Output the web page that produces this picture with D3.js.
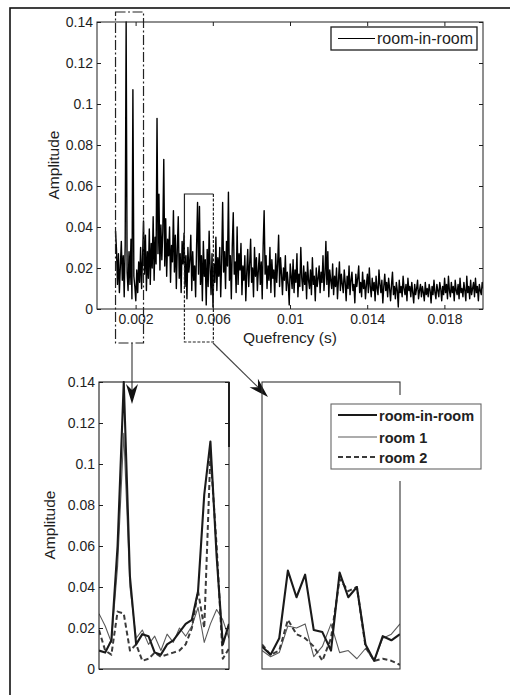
<!DOCTYPE html>
<html>
<head>
<meta charset="utf-8">
<script src="https://cdn.jsdelivr.net/npm/d3@7"></script>
<style>
  body { margin: 0; background: #fff; }
  svg { display: block; }
  text { font-family: "Liberation Sans", Arial, sans-serif; }
</style>
</head>
<body>
<svg id="fig" width="510" height="695"></svg>
<script>
// ---- data -------------------------------------------------------------
// cepstrum of the room-in-room response, sampled from 0.00096 s in 0.05 ms steps
const cepStart = 0.00096;
const cepStep = 0.00005;
const roomInRoom = [
  0.038,0.029,0.012,0.027,0.008,0.021,0.033,0.014,0.026,0.006,
  0.031,0.140,0.018,0.009,0.028,0.012,0.034,0.005,0.107,0.016,
  0.011,0.004,0.019,0.008,0.023,0.013,0.030,0.010,0.025,0.043,
  0.017,0.036,0.009,0.028,0.015,0.039,0.012,0.032,0.020,0.045,
  0.014,0.035,0.022,0.093,0.027,0.056,0.019,0.041,0.024,0.038,
  0.073,0.021,0.044,0.016,0.034,0.026,0.040,0.013,0.031,0.023,
  0.048,0.018,0.036,0.010,0.029,0.045,0.015,0.027,0.008,0.033,
  0.022,0.037,0.011,0.026,0.005,0.030,0.018,0.024,0.036,0.009,
  0.028,0.014,0.021,0.006,0.031,0.052,0.017,0.050,0.012,0.026,
  0.004,0.033,0.016,0.024,0.002,0.029,0.011,0.038,0.020,0.007,
  0.027,0.001,0.022,0.013,0.035,0.009,0.025,0.016,0.030,0.006,
  0.024,0.052,0.018,0.028,0.010,0.033,0.021,0.057,0.014,0.026,
  0.005,0.031,0.047,0.017,0.023,0.008,0.040,0.012,0.027,0.019,
  0.032,0.007,0.021,0.014,0.026,0.004,0.018,0.029,0.011,0.022,
  0.034,0.013,0.020,0.006,0.030,0.016,0.025,0.009,0.019,0.027,
  0.012,0.023,0.005,0.031,0.048,0.017,0.026,0.010,0.021,0.014,
  0.030,0.008,0.024,0.015,0.019,0.006,0.027,0.013,0.022,0.036,
  0.011,0.025,0.017,0.007,0.020,0.014,0.026,0.009,0.018,0.012,
  0.002,0.022,0.016,0.010,0.024,0.008,0.019,0.013,0.027,0.006,
  0.017,0.011,0.030,0.015,0.009,0.021,0.012,0.018,0.005,0.023,
  0.014,0.010,0.019,0.007,0.025,0.012,0.016,0.004,0.020,0.011,
  0.015,0.021,0.008,0.018,0.013,0.026,0.009,0.017,0.033,0.012,
  0.028,0.006,0.019,0.014,0.010,0.022,0.007,0.016,0.011,0.020,
  0.005,0.014,0.023,0.009,0.017,0.012,0.008,0.019,0.013,0.004,
  0.016,0.010,0.021,0.007,0.014,0.018,0.009,0.012,0.003,0.017,
  0.011,0.015,0.021,0.008,0.013,0.006,0.018,0.010,0.014,0.005,
  0.012,0.017,0.008,0.020,0.011,0.006,0.015,0.009,0.013,0.004,
  0.016,0.010,0.007,0.019,0.012,0.008,0.014,0.003,0.011,0.017,
  0.009,0.013,0.006,0.015,0.010,0.004,0.012,0.018,0.007,0.011,
  0.005,0.013,0.009,0.001,0.014,0.008,0.011,0.006,0.016,0.010,
  0.007,0.012,0.004,0.015,0.009,0.011,0.006,0.013,0.008,0.003,
  0.012,0.007,0.010,0.014,0.005,0.009,0.012,0.006,0.011,0.008,
  0.004,0.013,0.007,0.010,0.006,0.012,0.009,0.003,0.011,0.007,
  0.014,0.008,0.005,0.012,0.009,0.006,0.013,0.010,0.004,0.011,
  0.007,0.015,0.008,0.012,0.005,0.016,0.009,0.006,0.013,0.008,
  0.011,0.004,0.014,0.009,0.007,0.012,0.005,0.015,0.008,0.010,
  0.006,0.013,0.009,0.004,0.016,0.008,0.011,0.005,0.014,0.007,
  0.010,0.013,0.006,0.015,0.008,0.011,0.004,0.012,0.009,0.007,
  0.013,0.010
];

// detail window A (first two strong rahmonics)
const detailAStart = 0.00141;
const detailAStep = 0.000025;
const detailA_roomInRoom = [0.009,0.008,0.014,0.060,0.140,0.045,0.012,0.017,0.016,0.008,0.007,
                            0.012,0.014,0.018,0.022,0.024,0.038,0.085,0.111,0.055,0.012,0.022];
const detailA_room1 = [0.027,0.021,0.013,0.050,0.115,0.040,0.015,0.019,0.012,0.016,0.009,
                       0.017,0.013,0.020,0.016,0.021,0.030,0.013,0.022,0.029,0.024,0.015];
const detailA_room2 = [0.019,0.009,0.007,0.028,0.027,0.009,0.012,0.004,0.005,0.008,0.006,
                       0.007,0.008,0.009,0.012,0.020,0.038,0.020,0.105,0.060,0.005,0.010];

// detail window B (around 5 ms)
const detailBStart = 0.0047;
const detailBStep = 0.00005;
const detailB_roomInRoom = [0.011,0.007,0.015,0.048,0.035,0.046,0.019,0.018,0.009,
                            0.047,0.035,0.040,0.012,0.004,0.016,0.014,0.017];
const detailB_room1 = [0.009,0.006,0.008,0.021,0.020,0.022,0.006,0.011,0.022,
                       0.008,0.009,0.005,0.010,0.004,0.015,0.017,0.022];
const detailB_room2 = [0.012,0.007,0.009,0.024,0.017,0.015,0.011,0.004,0.015,
                       0.044,0.038,0.040,0.011,0.004,0.005,0.004,0.002];

// quefrency spans marked on the overview
const windowA = [0.00096, 0.00241];
const windowB = [0.00453, 0.00603];

const ampTicks = [0, 0.02, 0.04, 0.06, 0.08, 0.1, 0.12, 0.14];
const ampTickLabels = ["0", "0.02", "0.04", "0.06", "0.08", "0.1", "0.12", "0.14"];
const qTicks = [0.002, 0.006, 0.01, 0.014, 0.018];
const qTickLabels = ["0.002", "0.006", "0.01", "0.014", "0.018"];

const seriesNames = ["room-in-room", "room 1", "room 2"];

// ---- drawing ----------------------------------------------------------
const svg = d3.select("#fig");
const ink = "#1e1e1e";

// outer figure frame
svg.append("rect").attr("x", 10).attr("y", 8).attr("width", 530).attr("height", 720)
  .attr("fill", "none").attr("stroke", "#111").attr("stroke-width", 1.6);

const toPts = (start, step, vals) => vals.map((v, i) => [start + i * step, v]);

// overview panel
const ov = { l: 97, r: 483, t: 22, b: 309 };
const xTop = d3.scaleLinear().domain([0, 0.02]).range([ov.l, ov.r]);
const yTop = d3.scaleLinear().domain([0, 0.14]).range([ov.b, ov.t]);

svg.append("clipPath").attr("id", "clipTop").append("rect")
  .attr("x", ov.l).attr("y", ov.t - 1).attr("width", ov.r - ov.l).attr("height", ov.b - ov.t + 1);

svg.append("path")
  .datum(toPts(cepStart, cepStep, roomInRoom))
  .attr("clip-path", "url(#clipTop)")
  .attr("fill", "none").attr("stroke", "#000").attr("stroke-width", 1.4)
  .attr("stroke-linejoin", "round")
  .attr("d", d3.line().x(d => xTop(d[0])).y(d => yTop(d[1])));

function styleAxis(g) {
  g.attr("color", ink).attr("font-size", 14).attr("font-family", null);
  g.select(".domain").remove();
  g.selectAll("text").attr("font-family", '"Liberation Sans", Arial, sans-serif');
}

svg.append("g").attr("transform", `translate(${ov.l},0)`)
  .call(d3.axisLeft(yTop).tickValues(ampTicks).tickFormat((d, i) => ampTickLabels[i]).tickSize(-4).tickSizeOuter(0).tickPadding(4))
  .call(styleAxis);
svg.append("g").attr("transform", `translate(${ov.r},0)`)
  .call(d3.axisRight(yTop).tickValues(ampTicks).tickFormat("").tickSize(-4).tickSizeOuter(0))
  .call(styleAxis);
svg.append("g").attr("transform", `translate(0,${ov.b})`)
  .call(d3.axisBottom(xTop).tickValues(qTicks).tickFormat((d, i) => qTickLabels[i]).tickSize(-4).tickSizeOuter(0).tickPadding(5))
  .call(styleAxis);
svg.append("g").attr("transform", `translate(0,${ov.t})`)
  .call(d3.axisTop(xTop).tickValues(qTicks).tickFormat("").tickSize(-4).tickSizeOuter(0))
  .call(styleAxis);
svg.append("rect").attr("x", ov.l).attr("y", ov.t).attr("width", ov.r - ov.l).attr("height", ov.b - ov.t)
  .attr("fill", "none").attr("stroke", ink).attr("stroke-width", 1);

svg.append("text").attr("x", xTop(0.01)).attr("y", 343).attr("text-anchor", "middle")
  .attr("font-size", 15.5).attr("fill", ink).text("Quefrency (s)");
svg.append("text").attr("transform", "translate(59,165) rotate(-90)").attr("text-anchor", "middle")
  .attr("font-size", 15.5).attr("fill", ink).text("Amplitude");

// overview legend
const lg1 = svg.append("g");
lg1.append("rect").attr("x", 331).attr("y", 27).attr("width", 146).attr("height", 23)
  .attr("fill", "#fff").attr("stroke", ink).attr("stroke-width", 1.3);
lg1.append("line").attr("x1", 338).attr("x2", 375).attr("y1", 38.5).attr("y2", 38.5)
  .attr("stroke", "#000").attr("stroke-width", 1);
lg1.append("text").attr("x", 377).attr("y", 44).attr("font-size", 16).attr("fill", ink).text(seriesNames[0]);

// window markers on the overview
const boxA = { x0: xTop(windowA[0]), x1: xTop(windowA[1]), y0: 12, y1: 343 };
svg.append("rect").attr("x", boxA.x0).attr("y", boxA.y0).attr("width", boxA.x1 - boxA.x0).attr("height", boxA.y1 - boxA.y0)
  .attr("fill", "none").attr("stroke", "#222").attr("stroke-width", 1.2).attr("stroke-dasharray", "10,2.5,2,2.5");

const boxB = { x0: xTop(windowB[0]), x1: xTop(windowB[1]), y0: 194, y1: 342 };
svg.append("path")
  .attr("d", `M${boxB.x0},232 L${boxB.x0},${boxB.y0} L${boxB.x1},${boxB.y0}`)
  .attr("fill", "none").attr("stroke", "#222").attr("stroke-width", 1.2);
svg.append("path")
  .attr("d", `M${boxB.x1},${boxB.y0} L${boxB.x1},${boxB.y1} L${boxB.x0},${boxB.y1} L${boxB.x0},232`)
  .attr("fill", "none").attr("stroke", "#222").attr("stroke-width", 1.2).attr("stroke-dasharray", "3,1.6");

// arrows from the markers to the detail panels
function arrow(x1, y1, x2, y2) {
  const a = Math.atan2(y2 - y1, x2 - x1);
  const len = 20, half = 6, notch = 14;
  const ux = Math.cos(a), uy = Math.sin(a), px = -uy, py = ux;
  const bx = x2 - ux * len, by = y2 - uy * len;
  const nx = x2 - ux * notch, ny = y2 - uy * notch;
  svg.append("line").attr("x1", x1).attr("y1", y1).attr("x2", nx).attr("y2", ny)
    .attr("stroke", "#444").attr("stroke-width", 1.2);
  svg.append("path")
    .attr("d", `M${x2},${y2} L${bx + px * half},${by + py * half} L${nx},${ny} L${bx - px * half},${by - py * half} Z`)
    .attr("fill", "#111");
}
arrow(132, 343, 132, 404);
arrow(213, 343, 268, 397);

// detail panels
const yBot = d3.scaleLinear().domain([0, 0.14]).range([669, 382]);
const pA = { l: 99, r: 229 };
const pB = { l: 262, r: 400 };
const xA = d3.scaleLinear().domain([detailAStart, detailAStart + (detailA_roomInRoom.length - 1) * detailAStep]).range([pA.l, pA.r]);
const xB = d3.scaleLinear().domain([detailBStart, detailBStart + (detailB_roomInRoom.length - 1) * detailBStep]).range([pB.l, pB.r]);

const styles = [
  { stroke: "#1a1a1a", width: 2.1, dash: null },
  { stroke: "#5a5a5a", width: 1.1, dash: null },
  { stroke: "#3a3a3a", width: 2, dash: "5,3" }
];

function drawDetail(xs, id, start, step, seriesList) {
  svg.append("clipPath").attr("id", id).append("rect")
    .attr("x", xs.range()[0]).attr("y", yBot(0.14) - 1).attr("width", xs.range()[1] - xs.range()[0]).attr("height", yBot(0) - yBot(0.14) + 1);
  const line = d3.line().x(d => xs(d[0])).y(d => yBot(d[1]));
  // thin and dashed first, heavy series on top
  [1, 2, 0].forEach(k => {
    svg.append("path").datum(toPts(start, step, seriesList[k]))
      .attr("clip-path", `url(#${id})`)
      .attr("fill", "none").attr("stroke", styles[k].stroke).attr("stroke-width", styles[k].width)
      .attr("stroke-dasharray", styles[k].dash).attr("stroke-linejoin", "round")
      .attr("d", line);
  });
}

drawDetail(xA, "clipA", detailAStart, detailAStep, [detailA_roomInRoom, detailA_room1, detailA_room2]);
drawDetail(xB, "clipB", detailBStart, detailBStep, [detailB_roomInRoom, detailB_room1, detailB_room2]);

// panel A axes
svg.append("g").attr("transform", `translate(${pA.l},0)`)
  .call(d3.axisLeft(yBot).tickValues(ampTicks).tickFormat((d, i) => ampTickLabels[i]).tickSize(-4).tickSizeOuter(0).tickPadding(4))
  .call(styleAxis);
svg.append("g").attr("transform", `translate(${pA.r},0)`)
  .call(d3.axisRight(yBot).tickValues(ampTicks).tickFormat("").tickSize(-4).tickSizeOuter(0))
  .call(styleAxis);
svg.append("rect").attr("x", pA.l).attr("y", yBot(0.14)).attr("width", pA.r - pA.l).attr("height", yBot(0) - yBot(0.14))
  .attr("fill", "none").attr("stroke", ink).attr("stroke-width", 1.1);
svg.append("line").attr("x1", pA.r).attr("x2", pA.r).attr("y1", yBot(0.14)).attr("y2", 447)
  .attr("stroke", ink).attr("stroke-width", 2);
svg.append("text").attr("transform", "translate(55,525) rotate(-90)").attr("text-anchor", "middle")
  .attr("font-size", 15.5).attr("fill", ink).text("Amplitude");

// panel B frame
svg.append("rect").attr("x", pB.l).attr("y", yBot(0.14)).attr("width", pB.r - pB.l).attr("height", yBot(0) - yBot(0.14))
  .attr("fill", "none").attr("stroke", "#333").attr("stroke-width", 1.1);

// detail legend (its white backing clears part of the panel frame)
const lg2 = svg.append("g");
lg2.append("rect").attr("x", 325).attr("y", 395).attr("width", 162).attr("height", 86).attr("fill", "#fff");
lg2.append("rect").attr("x", 331).attr("y", 404).attr("width", 150).attr("height", 65)
  .attr("fill", "#fff").attr("stroke", "#666").attr("stroke-width", 1.1);
const legRows = [415, 437, 457];
legRows.forEach((yy, k) => {
  lg2.append("line").attr("x1", 338).attr("x2", 377).attr("y1", yy).attr("y2", yy)
    .attr("stroke", styles[k].stroke).attr("stroke-width", styles[k].width).attr("stroke-dasharray", styles[k].dash);
  lg2.append("text").attr("x", 379).attr("y", yy + 6).attr("font-size", 14.5).attr("font-weight", "bold")
    .attr("fill", "#222").text(seriesNames[k]);
});
</script>
</body>
</html>
